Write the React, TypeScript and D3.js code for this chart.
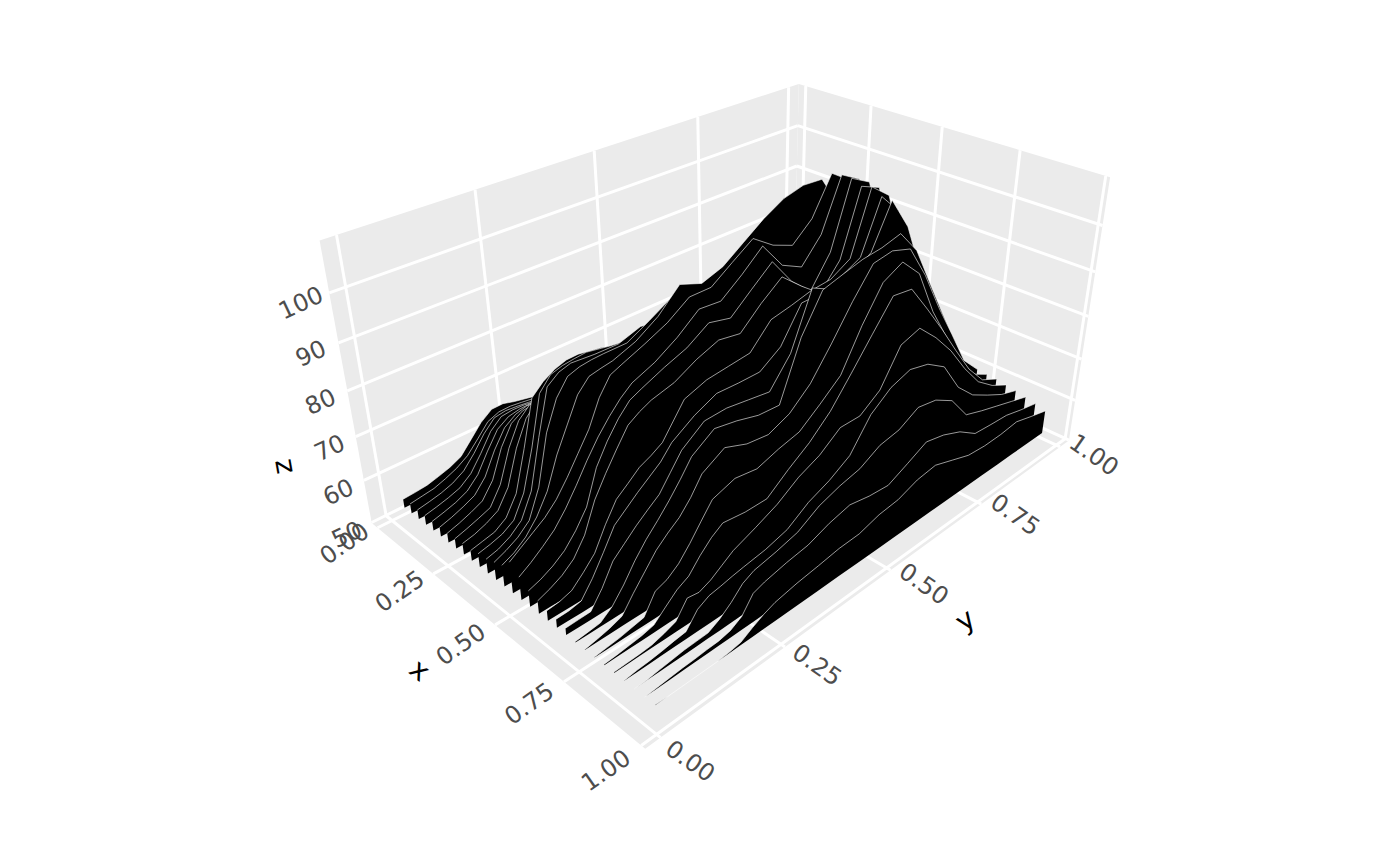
import React from 'react';
import * as d3 from 'd3';

const xTicks = [0, 0.25, 0.5, 0.75, 1];
const yTicks = [0, 0.25, 0.5, 0.75, 1];
const zTicks = [50, 60, 70, 80, 90, 100];

// y position of every sample along a ridge
const ridgeY = [0, 0.0235, 0.047, 0.0705, 0.094, 0.1175, 0.141, 0.1645, 0.188, 0.2115, 0.235, 0.282, 0.329, 0.376, 0.423, 0.47, 0.517, 0.564, 0.611, 0.658, 0.705, 0.752, 0.799, 0.846, 0.893, 0.94];
// x position of each ridge, back to front
const ridgeX = d3.range(30).map(i => 0.078 + 0.0318 * i);
const zBase = 56.2;

// z, one row per ridge
const ridgeHeights = [
  [58.2, 58.4, 58.7, 59.4, 60.2, 61.4, 64.1, 66.8, 68.6, 68.7, 68.0, 67.0, 66.4, 65.7, 65.1, 64.4, 63.8, 63.2, 62.5, 61.9, 61.2, 60.6, 59.9, 59.3, 58.6, 58.0],
  [58.4, 58.8, 59.2, 60.1, 61.2, 62.8, 65.4, 68.1, 69.1, 69.2, 68.9, 68.2, 67.5, 66.7, 66.0, 65.3, 64.5, 63.8, 63.1, 62.4, 61.6, 60.9, 60.2, 59.5, 58.7, 58.0],
  [58.3, 58.8, 59.4, 60.3, 61.8, 64.5, 67.7, 70.1, 70.5, 70.3, 70.0, 69.2, 68.4, 67.6, 66.8, 66.0, 65.2, 64.4, 63.6, 62.8, 62.0, 61.2, 60.4, 59.6, 58.8, 58.0],
  [58.3, 58.9, 59.6, 60.5, 62.4, 65.7, 69.4, 71.5, 71.8, 71.7, 71.3, 70.4, 69.5, 68.6, 67.8, 66.9, 66.0, 65.1, 64.2, 63.3, 62.4, 61.5, 60.7, 59.8, 58.9, 58.0],
  [58.3, 59.0, 59.8, 61.0, 63.4, 67.4, 71.0, 72.6, 73.1, 73.2, 72.7, 71.7, 70.7, 69.8, 68.8, 67.8, 66.8, 65.8, 64.9, 63.9, 62.9, 61.9, 60.9, 60.0, 59.0, 58.0],
  [58.3, 59.1, 60.1, 61.3, 64.1, 68.8, 72.5, 74.2, 74.9, 74.5, 73.9, 72.9, 71.8, 70.7, 69.7, 68.6, 67.6, 66.5, 65.4, 64.4, 63.3, 62.2, 61.2, 60.1, 59.1, 58.0],
  [58.3, 59.1, 60.1, 61.3, 64.6, 70.6, 74.6, 76.1, 76.4, 75.9, 75.3, 74.1, 73.0, 71.8, 70.7, 69.5, 68.4, 67.2, 66.1, 64.9, 63.8, 62.6, 61.5, 60.3, 59.2, 58.0],
  [58.4, 59.2, 60.1, 61.1, 64.9, 71.6, 76.3, 78.5, 78.0, 77.4, 76.8, 75.5, 74.3, 73.0, 71.8, 70.5, 69.3, 68.0, 66.8, 65.5, 64.3, 63.0, 61.8, 60.5, 59.3, 58.0],
  [58.7, 59.3, 60.3, 61.7, 65.5, 72.8, 77.9, 80.5, 79.8, 79.1, 78.4, 77.1, 75.7, 74.3, 73.0, 71.6, 70.3, 68.9, 67.5, 66.2, 64.8, 63.4, 62.1, 60.7, 59.4, 58.0],
  [58.5, 59.1, 59.7, 61.4, 65.4, 73.9, 83.3, 85.5, 86.9, 87.7, 87.8, 87.0, 85.4, 83.3, 81.2, 79.1, 77.0, 74.9, 72.8, 70.7, 68.5, 66.4, 64.3, 62.2, 60.1, 58.0],
  [59.2, 59.8, 60.6, 62.2, 66.8, 75.2, 85.3, 88.0, 88.7, 89.0, 89.2, 88.3, 87.7, 85.4, 83.2, 80.9, 78.6, 76.3, 74.0, 71.7, 69.4, 67.1, 64.9, 62.6, 60.3, 58.0],
  [59.4, 60.1, 61.4, 63.5, 68.5, 78.6, 87.7, 89.5, 90.2, 90.0, 89.8, 89.7, 91.2, 90.4, 87.7, 85.0, 82.3, 79.6, 76.9, 74.2, 71.5, 68.8, 66.1, 63.4, 60.7, 58.0],
  [60.1, 61.2, 62.6, 64.8, 70.6, 80.7, 86.5, 89.7, 90.5, 90.8, 90.9, 90.9, 93.3, 95.9, 92.7, 89.6, 86.4, 83.2, 80.1, 76.9, 73.8, 70.6, 67.5, 64.3, 61.2, 58.0],
  [60.9, 62.1, 64.0, 66.9, 71.0, 77.3, 82.2, 87.1, 89.6, 90.1, 90.5, 92.2, 95.1, 99.5, 97.8, 99.3, 102.4, 105.5, 107.9, 109.0, 108.7, 101.6, 92.2, 80.8, 69.4, 58.0],
  [63.0, 64.7, 66.4, 68.1, 70.5, 73.8, 77.5, 81.2, 86.4, 89.8, 90.8, 92.7, 94.8, 97.9, 97.9, 101.0, 104.0, 100.9, 99.1, 102.9, 110.6, 107.7, 92.8, 81.2, 69.6, 58.0],
  [61.2, 62.8, 64.7, 66.8, 69.8, 73.4, 77.3, 80.8, 83.7, 86.2, 88.1, 90.0, 92.8, 96.4, 96.0, 99.4, 103.3, 97.6, 95.4, 100.4, 111.0, 108.6, 93.6, 81.7, 69.9, 58.0],
  [59.7, 60.6, 61.9, 63.7, 66.5, 70.1, 77.0, 81.1, 84.4, 86.9, 88.0, 90.0, 91.7, 94.6, 93.5, 97.3, 101.0, 95.1, 91.2, 97.5, 111.0, 108.7, 93.8, 81.9, 69.9, 58.0],
  [59.0, 60.0, 61.3, 63.3, 66.9, 72.9, 77.0, 80.7, 84.2, 85.7, 86.8, 88.0, 90.4, 92.1, 91.3, 95.4, 98.8, 95.0, 91.6, 96.7, 110.1, 108.3, 93.1, 81.4, 69.7, 58.0],
  [58.4, 58.7, 59.5, 61.8, 64.4, 69.0, 72.9, 74.8, 76.8, 77.9, 79.3, 85.7, 87.3, 87.8, 88.3, 93.0, 93.9, 95.0, 95.4, 97.8, 110.7, 107.4, 93.3, 81.5, 69.8, 58.0],
  [58.1, 58.2, 58.7, 62.0, 66.0, 70.2, 72.2, 74.2, 76.0, 77.8, 80.5, 83.5, 85.6, 85.4, 85.4, 88.4, 95.3, 95.3, 96.8, 98.9, 109.5, 105.0, 92.6, 81.1, 69.5, 58.0],
  [57.7, 57.8, 57.9, 61.3, 65.6, 67.8, 70.0, 71.9, 73.7, 76.9, 80.1, 83.5, 83.7, 83.0, 82.3, 88.0, 99.2, 97.0, 98.0, 100.7, 109.5, 102.5, 90.8, 79.9, 68.9, 58.0],
  [56.4, 56.7, 57.0, 58.9, 61.9, 65.5, 68.5, 71.0, 73.7, 76.7, 80.0, 83.1, 82.2, 80.9, 80.6, 92.3, 99.7, 100.9, 102.0, 102.5, 103.6, 98.4, 89.3, 80.4, 71.6, 58.0],
  [56.3, 56.8, 57.4, 58.3, 61.6, 64.6, 67.6, 69.7, 71.5, 74.2, 77.7, 80.4, 78.6, 78.0, 79.9, 83.8, 89.8, 96.3, 102.0, 102.7, 101.3, 94.0, 85.1, 77.0, 68.7, 64.3],
  [56.3, 56.6, 56.9, 57.4, 57.9, 61.9, 62.8, 64.6, 67.4, 70.6, 73.7, 75.3, 74.6, 76.1, 77.2, 80.6, 84.3, 92.4, 99.1, 101.3, 97.1, 87.1, 79.4, 72.5, 66.4, 64.1],
  [56.4, 56.6, 56.9, 57.2, 57.8, 60.0, 62.1, 63.4, 66.2, 68.5, 70.1, 69.5, 69.5, 73.0, 76.1, 80.2, 85.8, 91.6, 97.3, 96.7, 90.6, 84.2, 77.4, 70.9, 66.1, 64.0],
  [56.4, 56.5, 56.6, 56.8, 57.5, 58.4, 61.8, 61.4, 62.4, 64.0, 65.6, 67.5, 69.6, 72.6, 74.6, 77.9, 77.9, 81.0, 88.2, 89.6, 85.5, 80.5, 74.3, 69.0, 65.8, 63.6],
  [56.3, 56.6, 56.8, 57.1, 57.5, 57.8, 60.9, 62.2, 62.6, 63.1, 63.5, 64.2, 65.5, 68.5, 70.4, 73.1, 79.3, 82.6, 84.1, 83.0, 80.2, 73.4, 69.3, 66.9, 64.7, 63.3],
  [56.2, 56.3, 56.6, 56.9, 57.2, 57.3, 57.4, 58.7, 60.6, 63.0, 64.2, 65.1, 66.3, 69.0, 70.5, 71.5, 73.9, 74.7, 77.1, 76.3, 73.8, 68.2, 66.7, 65.4, 64.1, 62.8],
  [56.2, 56.4, 56.6, 56.8, 56.9, 57.1, 57.2, 57.7, 59.1, 62.4, 63.2, 64.2, 64.9, 66.6, 67.7, 66.8, 66.4, 68.5, 70.7, 69.7, 67.9, 65.0, 64.6, 64.3, 63.2, 62.3],
  [56.3, 56.2, 56.2, 56.2, 56.2, 56.2, 56.4, 56.8, 58.2, 59.4, 60.3, 61.2, 61.8, 62.5, 62.7, 64.0, 64.5, 66.1, 66.7, 65.2, 63.7, 63.3, 63.4, 63.9, 62.7, 61.6],
];

// camera matrix fitted to the box corners
const P = [137.03758, 625.35399, -75.98321, 392.00648, 71.27293, -105.46549, -258.92927, 520.1694, -0.1942309, 0.2870013, -0.1024136];
const zNorm = d3.scaleLinear().domain([50, 100]).range([0, 1]);
const project = (x: number, y: number, z: number): [number, number] => {
  const Z = zNorm(z);
  const w = P[8] * x + P[9] * y + P[10] * Z + 1;
  return [(P[0] * x + P[1] * y + P[2] * Z + P[3]) / w, (P[4] * x + P[5] * y + P[6] * Z + P[7]) / w];
};

const xMin = -0.028, xMax = 1.012, yMin = -0.028, yMax = 1.03, zMin = 49.9, zMax = 110;
const line = d3.line<[number, number]>();

export default function App() {
  const face = (pts: number[][]) => line(pts.map(p => project(p[0], p[1], p[2]))) + 'Z';
  const grid = (a: number[], b: number[], k: string) => {
    const p = project(a[0], a[1], a[2]), q = project(b[0], b[1], b[2]);
    return <line key={k} x1={p[0]} y1={p[1]} x2={q[0]} y2={q[1]} stroke="#fff" strokeWidth={3} />;
  };
  const label = (s: string | number, p: [number, number], r: number, k: string, fill = '#4D4D4D', size = 24) => (
    <text key={k} transform={`translate(${p[0]},${p[1]}) rotate(${r})`} textAnchor="middle" dominantBaseline="central"
      fontFamily="DejaVu Sans" fontSize={size} fill={fill}>{s}</text>
  );

  return (
    <svg width={1400} height={866} style={{ position: 'absolute', left: 0, top: 0 }}>
      <path d={face([[xMin, yMin, zMin], [xMax, yMin, zMin], [xMax, yMax, zMin], [xMin, yMax, zMin]])} fill="#EBEBEB" />
      <path d={face([[xMin, yMin, zMin], [xMin, yMax, zMin], [xMin, yMax, zMax], [xMin, yMin, zMax]])} fill="#EBEBEB" />
      <path d={face([[xMin, yMax, zMin], [xMax, yMax, zMin], [xMax, yMax, zMax], [xMin, yMax, zMax]])} fill="#EBEBEB" />

      {xTicks.map(x => grid([x, yMin, zMin], [x, yMax, zMin], 'fx' + x))}
      {yTicks.map(y => grid([xMin, y, zMin], [xMax, y, zMin], 'fy' + y))}
      {yTicks.map(y => grid([xMin, y, zMin], [xMin, y, zMax], 'ly' + y))}
      {zTicks.map(z => grid([xMin, yMin, z], [xMin, yMax, z], 'lz' + z))}
      {xTicks.map(x => grid([x, yMax, zMin], [x, yMax, zMax], 'rx' + x))}
      {zTicks.map(z => grid([xMin, yMax, z], [xMax, yMax, z], 'rz' + z))}

      {/* painted back to front so nearer ridges hide the ones behind */}
      {ridgeHeights.map((row, i) => {
        const top = row.map((z, j) => project(ridgeX[i], ridgeY[j], z));
        const base = ridgeY.map(y => project(ridgeX[i], y, zBase)).reverse();
        return (
          <g key={i}>
            <path d={line([...top, ...base]) + 'Z'} fill="#000" />
            <path d={line(top)!} fill="none" stroke="#fff" strokeWidth={0.6} />
          </g>
        );
      })}

      {xTicks.map(x => label(x.toFixed(2), project(x, -0.09, 50), -35, 'xl' + x))}
      {yTicks.map(y => label(y.toFixed(2), project(1.1, y * 1.02, 50), 35, 'yl' + y))}
      {zTicks.map(z => label(z, project(xMin, -0.075, z), -25, 'zl' + z))}
      {label('x', [420, 670], 39, 'xt', '#000', 28)}
      {label('y', [965, 620], -35, 'yt', '#000', 28)}
      {label('z', [282, 467], -100, 'zt', '#000', 28)}
    </svg>
  );
}
